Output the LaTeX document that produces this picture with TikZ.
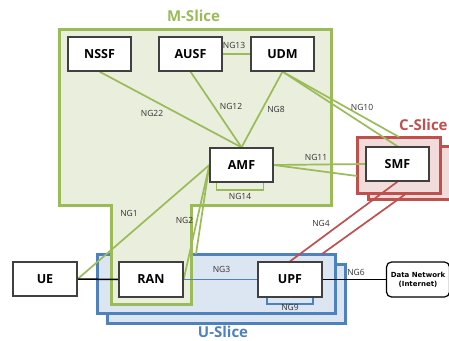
\documentclass[tikz,border=0pt]{standalone}
\usepackage{fontspec}
\setmainfont{Open Sans}
\newfontfamily\dvsans{DejaVu Sans}
\usetikzlibrary{calc}
\definecolor{mgreen}{HTML}{9BBB59}
\definecolor{mgreenfill}{HTML}{EAEEDC}
\definecolor{cred}{HTML}{C0504D}
\definecolor{credfill}{HTML}{F2DCDB}
\definecolor{ublue}{HTML}{4F81BD}
\definecolor{ubluefill}{HTML}{DCE6F2}
\definecolor{boxborder}{HTML}{404040}
\tikzset{
  nf/.style={draw=boxborder, line width=1.3pt, fill=white, minimum width=63pt, minimum height=34pt, inner sep=0pt, font=\fontsize{12.5}{14}\selectfont\bfseries},
  lbl/.style={font=\fontsize{8.5}{10}\selectfont, text=black!80, inner sep=0pt},
  gl/.style={mgreen, line width=1.7pt},
  rl/.style={cred, line width=1.7pt},
  bl/.style={ublue, line width=1.7pt},
  kl/.style={black, line width=1.5pt},
  slicebox/.style={line width=3pt},
  slicelbl/.style={font=\fontsize{15}{17}\selectfont\bfseries, inner sep=0pt},
}
\begin{document}
\begin{tikzpicture}[x=1pt,y=-1pt]
\useasboundingbox (0,0) rectangle (449,340);
% U-Slice
\draw[slicebox, ublue, fill=ubluefill] (107,264) rectangle (345,323);
\draw[slicebox, ublue, fill=ubluefill] (97,254) rectangle (335,313);
% M-Slice
\draw[slicebox, mgreen, fill=mgreenfill] (59,29) -- (331,29) -- (331,205) -- (191,205) -- (191,304) -- (111,304) -- (111,205) -- (59,205) -- cycle;
% C-Slice
\draw[slicebox, cred, fill=credfill] (368,146) rectangle (455,199);
\draw[slicebox, cred, fill=credfill] (357,137) rectangle (440,193);
% slice labels
\node[slicelbl, text=mgreen] (mlbl) at (193.5,16) {M-Slice};
\node[slicelbl, text=cred, anchor=west] (clbl) at (399,124.5) {C-Slice};
\node[slicelbl, text=ublue] (ulbl) at (223,331.5) {U-Slice};
% nodes
\node[nf] (NSSF) at (99.5,54) {NSSF};
\node[nf] (AUSF) at (190.5,54) {AUSF};
\node[nf] (UDM) at (282.5,54) {UDM};
\node[nf] (AMF) at (241.5,165) {AMF};
\node[nf] (SMF) at (397.5,164) {SMF};
\node[nf, minimum width=64pt] (UE) at (45,279) {UE};
\node[nf, minimum width=64pt, minimum height=35pt] (RAN) at (151,279.5) {RAN};
\node[nf, minimum width=64pt, minimum height=35pt] (UPF) at (290,279.5) {UPF};
\node[draw=black, line width=1.2pt, fill=white, rounded corners=5pt, minimum width=63pt, minimum height=35pt, inner sep=0pt, align=center, font=\dvsans\fontsize{7}{9}\selectfont\bfseries] (DN) at (418,279.5) {Data Network\\(Internet)};
% boundary coordinates
\coordinate (ctop) at (399,137);
\coordinate (cleft) at (357,176);
\coordinate (cbot) at (407,193);
\coordinate (utopA) at (196,254);
\coordinate (utopB) at (322,254);
% connectors
\draw[gl] (AUSF.east) -- (UDM.west);
\draw[gl] (NSSF.south) -- (AMF.north);
\draw[gl] (AUSF.south) -- (AMF.north);
\draw[gl] (UDM.south) -- (AMF.north);
\draw[gl] (UDM.south) -- (SMF.north);
\draw[gl] (UDM.south) -- (ctop);
\draw[gl] (AMF.east) -- (SMF.west);
\draw[gl] (AMF.east) -- (cleft);
\draw[gl] ($(AMF.south)+(-25,0)$) -- ++(0,7) -- ++(47,0) -- ++(0,-7);
\draw[gl] (UE.east) -- (AMF.west);
\draw[gl] (RAN.east) -- (AMF.west);
\draw[gl] (utopA) -- (AMF.west);
\draw[bl] (RAN.east) -- (UPF.west);
\draw[bl] ($(UPF.south)+(-23,0)$) -- ++(0,6) -- ++(46,0) -- ++(0,-6);
\draw[rl] (UPF.north) -- (SMF.south);
\draw[rl] (utopB) -- (cbot);
\draw[kl] (UPF.east) -- (DN.west);
\draw[kl] (UE.east) -- (RAN.west);
% redraw nodes on top of connector ends
\node[nf] at (AMF) {AMF};
\node[nf] at (SMF) {SMF};
\node[nf] at (NSSF) {NSSF};
\node[nf] at (AUSF) {AUSF};
\node[nf] at (UDM) {UDM};
\node[nf, minimum width=64pt] at (UE) {UE};
\node[nf, minimum width=64pt, minimum height=35pt] at (RAN) {RAN};
\node[nf, minimum width=64pt, minimum height=35pt] at (UPF) {UPF};
% labels
\node[lbl] (l22) at (152,113) {NG22};
\node[lbl] (l12) at (231,106) {NG12};
\node[lbl] (l8) at (276,109) {NG8};
\node[lbl] (l13) at (234,45) {NG13};
\node[lbl] (l10) at (362,107) {NG10};
\node[lbl] (l11) at (316,157) {NG11};
\node[lbl] (l14) at (240,196) {NG14};
\node[lbl] (l1) at (129,213) {NG1};
\node[lbl] (l2) at (184.5,220) {NG2};
\node[lbl] (l3) at (221.5,269) {NG3};
\node[lbl] (l4) at (321,223) {NG4};
\node[lbl] (l6) at (356,272.5) {NG6};
\node[lbl] (l9) at (290,307) {NG9};
\end{tikzpicture}
\end{document}
